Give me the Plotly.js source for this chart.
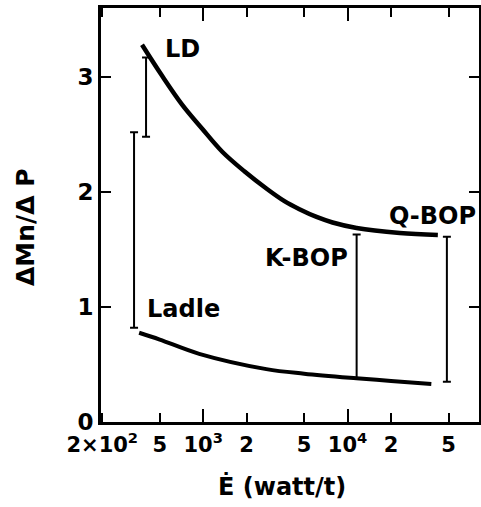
<!DOCTYPE html>
<html>
<head>
<meta charset="utf-8">
<script src="https://cdn.plot.ly/plotly-3.0.1.min.js"></script>
<style>html,body{margin:0;padding:0;background:#fff;}#chart{width:481px;height:507px;}</style>
</head>
<body>
<div id="chart"></div>
<script>
// LD curve
const ldX = [377, 519, 714, 984, 1355, 1927, 2738, 3652, 4640, 6095, 7870, 11550, 22970, 42170];
const ldY = [3.28, 3.01, 2.76, 2.55, 2.35, 2.18, 2.03, 1.92, 1.85, 1.783, 1.735, 1.687, 1.644, 1.626];
// Ladle curve
const ladleX = [360, 500, 938, 2738, 5000, 11500, 20000, 38000];
const ladleY = [0.776, 0.717, 0.593, 0.46, 0.42, 0.38, 0.357, 0.33];
// range bars
const barX = [332, 402, 11550, 48700];
const barLow = [0.82, 2.48, 0.38, 0.35];
const barHigh = [2.52, 3.17, 1.63, 1.61];
// ticks
const xTickVals = [200, 500, 1000, 2000, 5000, 10000, 20000, 50000];
const xTickText = ['2×10<sup>2</sup>', '5', '10<sup>3</sup>', '2', '5', '10<sup>4</sup>', '2', '5'];
const yTickVals = [0, 1, 2, 3];
const yTickText = ['0', '1', '2', '3'];
const labels = ['LD', 'Ladle', 'K-BOP', 'Q-BOP'];
const xTitle = 'Ė (watt/t)';
const yTitle = 'ΔMn/Δ P';

const FONT = 'DejaVu Sans, sans-serif';

const traces = [
  {x: ldX, y: ldY, mode: 'lines', line: {color: '#000', width: 4.5, shape: 'spline', smoothing: 1}, hoverinfo: 'skip'},
  {x: ladleX, y: ladleY, mode: 'lines', line: {color: '#000', width: 4, shape: 'spline', smoothing: 1}, hoverinfo: 'skip'},
  {x: barX, y: barLow, mode: 'markers', marker: {size: 1, color: 'rgba(0,0,0,0)'},
   error_y: {type: 'data', symmetric: false, array: barHigh.map((h, i) => h - barLow[i]),
             arrayminus: barLow.map(() => 0), color: '#000', thickness: 2, width: 4},
   hoverinfo: 'skip'}
];

const labelPos = [[0.164, 0.901], [0.116, 0.273], [0.429, 0.396], [0.757, 0.498]];

const annotations = labels.map((t, i) => ({
  text: t, xref: 'paper', yref: 'paper', x: labelPos[i][0], y: labelPos[i][1],
  xanchor: 'left', yanchor: 'middle', showarrow: false,
  font: {family: FONT, size: 24, weight: 'bold', color: '#000'}
}));
annotations.push({
  text: xTitle, xref: 'paper', yref: 'paper', x: 0.479, y: -0.157,
  xanchor: 'center', yanchor: 'middle', showarrow: false,
  font: {family: FONT, size: 24, weight: 'bold', color: '#000'}
});
annotations.push({
  text: yTitle, xref: 'paper', yref: 'paper', x: -0.201, y: 0.471, textangle: -90,
  xanchor: 'center', yanchor: 'middle', showarrow: false,
  font: {family: FONT, size: 25, weight: 'bold', color: '#000'}
});

const layout = {
  width: 481, height: 507,
  margin: {l: 101, r: 2, t: 8, b: 85},
  paper_bgcolor: '#fff', plot_bgcolor: '#fff',
  showlegend: false,
  font: {family: FONT, color: '#000'},
  xaxis: {
    type: 'log', range: [Math.log10(196), 4.91],
    tickmode: 'array', tickvals: xTickVals, ticktext: xTickText,
    ticks: 'inside', ticklen: 9, tickwidth: 2, tickcolor: '#000',
    showline: true, linewidth: 3, linecolor: '#000', mirror: 'ticks',
    showgrid: false, zeroline: false, ticklabelstandoff: 2,
    tickfont: {family: FONT, size: 21, weight: 'bold'},
    minor: {tickmode: 'array', tickvals: [1000, 10000], ticks: 'inside', ticklen: 13, tickwidth: 2, tickcolor: '#000', showgrid: false}
  },
  yaxis: {
    range: [0, 3.6],
    tickmode: 'array', tickvals: yTickVals, ticktext: yTickText,
    ticks: 'inside', ticklen: 10, tickwidth: 2, tickcolor: '#000',
    showline: true, linewidth: 3, linecolor: '#000', mirror: 'ticks',
    showgrid: false, zeroline: false,
    tickfont: {family: FONT, size: 23, weight: 'bold'}
  },
  annotations: annotations
};

Plotly.newPlot('chart', traces, layout, {staticPlot: true, displayModeBar: false});
</script>
</body>
</html>
